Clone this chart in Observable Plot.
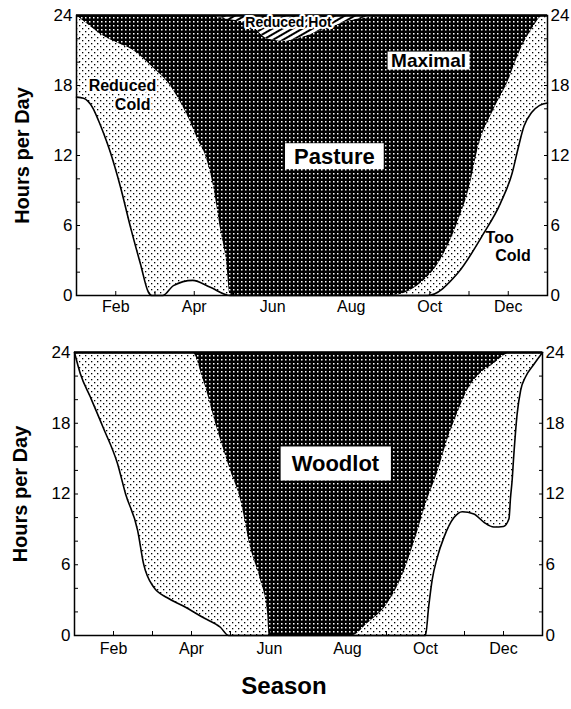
<!DOCTYPE html>
<html><head><meta charset="utf-8">
<script src="https://cdn.jsdelivr.net/npm/d3@7"></script>
<script src="https://cdn.jsdelivr.net/npm/@observablehq/plot@0.6"></script>
<style>
body{margin:0;background:#fff;font-family:"Liberation Sans",Arial,sans-serif;}
#chart{width:571px;height:709px;position:relative;}
#chart svg{display:block;}
.season{position:absolute;left:0;width:568px;text-align:center;top:672px;font-weight:bold;font-size:24px;line-height:normal;}
</style></head><body>
<svg width="0" height="0" style="position:absolute">
<defs>
<pattern id="pMax" patternUnits="userSpaceOnUse" width="4" height="4">
<rect width="4" height="4" fill="#000"/><rect x="1" y="1" width="1.5" height="1.5" fill="#fff"/>
</pattern>
<pattern id="pCold" patternUnits="userSpaceOnUse" width="6" height="6">
<rect width="6" height="6" fill="#fff"/><rect x="1" y="1" width="1.3" height="1.3" fill="#000"/><rect x="4" y="4" width="1.3" height="1.3" fill="#000"/>
</pattern>
<pattern id="pHot" patternUnits="userSpaceOnUse" width="5" height="5" patternTransform="rotate(-30)">
<rect width="5" height="5" fill="#fff"/><rect y="0" width="5" height="2" fill="#000"/>
</pattern>
</defs></svg>
<div id="chart"></div>
<script>
// ---- axis ticks ----
const months = ["Jan","Feb","Mar","Apr","May","Jun","Jul","Aug","Sep","Oct","Nov","Dec"];
const monthTicks = d3.range(0, 12);
const labelledMonths = [1, 3, 5, 7, 9, 11];
const majorHours = [0, 6, 12, 18, 24];
const minorHours = d3.range(0, 25, 2);
const categories = ["Too Cold", "Reduced Cold", "Maximal", "Reduced Hot"];

// ---- Pasture: cumulative boundaries [month, hours] ----
// top of "Too Cold"
const pastureTooCold = [[0,17],[0.18,16.9],[0.41,16.1],[0.56,15],[0.69,13.9],[0.85,12.4],[1.12,9.3],[1.38,5.8],[1.63,2.7],[1.83,0.3],[1.92,0],[2.2,0],[2.47,0.85],[2.96,1.3],[3.41,0.7],[3.92,0],[8.94,0],[9.71,1.9],[10.37,5.3],[10.8,7.9],[11.1,10.5],[11.25,12.6],[11.4,14.5],[11.6,15.7],[11.8,16.3],[12,16.5]];
// top of "Reduced Cold"
const pastureColdTop = [[0,24],[0.3,23.2],[0.61,22.4],[1.0,21.7],[1.45,21],[1.96,19.5],[2.32,18.3],[2.83,15.4],[3.16,12.9],[3.24,12.4],[3.5,9.2],[3.68,5.5],[3.82,3],[3.92,0],[8.05,0],[8.76,1.0],[9.27,3.0],[9.71,6.2],[10.04,9.6],[10.22,12.4],[10.63,15.9],[10.98,18.2],[11.31,21],[11.64,23],[11.9,24],[12,24]];
// top of "Maximal" (above it: "Reduced Hot")
const pastureMaxTop = [[0,24],[3.41,24],[3.67,23.8],[4.43,23.2],[4.87,22.0],[5.27,21.8],[5.71,22.1],[6.22,22.7],[6.73,23.3],[7.16,23.7],[7.75,23.9],[8.25,24],[12,24]];

// ---- Woodlot ----
const woodlotTooCold = [[0,24],[0.15,22.2],[0.41,20.2],[0.74,17.6],[1.10,14.6],[1.31,12],[1.62,8.9],[1.77,6.1],[2.03,4.1],[2.38,3.2],[2.79,2.5],[3.31,1.5],[3.74,0.7],[3.95,0],[9.0,0],[9.08,2.4],[9.17,4.7],[9.3,6.6],[9.47,8.3],[9.73,10],[9.94,10.5],[10.24,10.3],[10.5,9.6],[10.75,9.2],[11.0,9.25],[11.14,9.9],[11.18,11.7],[11.22,13.1],[11.26,15.1],[11.35,18.8],[11.44,20.8],[11.56,21.9],[11.78,23],[12,24]];
const woodlotColdTop = [[0,24],[3.03,24],[3.31,21.6],[3.67,17.4],[4.0,14],[4.26,11.5],[4.51,7.5],[4.77,4.7],[4.95,1.9],[4.99,0],[7.13,0],[7.51,1],[8.03,2.7],[8.44,5.3],[8.79,8.7],[9.05,11.5],[9.3,13.7],[9.56,16.5],[9.82,18.8],[10.08,20.8],[10.41,22.2],[10.74,23],[11.1,23.9],[11.2,24],[12,24]];
const woodlotMaxTop = [[0,24],[12,24]];

// ---- annotations ----
const pastureNotes = [
  {text:"Reduced Hot", month:5.40, hours:23.4, size:14, kind:"halo"},
  {text:"Maximal", month:8.97, hours:20.1, size:19, kind:"box", px:3.5, py:-1.5},
  {text:"Pasture", month:6.57, hours:11.9, size:22, kind:"box", px:9, py:0.5},
  {text:"Reduced", month:1.17, hours:17.96, size:16, kind:"halo"},
  {text:"Cold", month:1.43, hours:16.33, size:16, kind:"halo"},
  {text:"Too", month:10.78, hours:4.93, size:16, kind:"plain"},
  {text:"Cold", month:11.12, hours:3.43, size:16, kind:"plain"}
];
const woodlotNotes = [
  {text:"Woodlot", month:6.69, hours:14.55, size:22, kind:"box", px:11, py:4.5}
];

function panel(o) {
  const X = d => d[0], Y = d => d[1];
  const curve = "monotone-x";
  const noteMarks = o.notes.map(n => Plot.text([n], {
    x: "month", y: "hours", text: "text", fontWeight: "bold", fontSize: n.size, fill: "black",
    ...(n.kind === "halo" ? {stroke: "white", strokeWidth: 4, paintOrder: "stroke"} : {}),
    className: n.kind === "box" ? "boxed" : undefined
  }));
  const svg = Plot.plot({
    width: 571, height: o.height,
    marginLeft: o.ml, marginRight: o.mr, marginTop: o.mt, marginBottom: o.mb,
    x: {domain: [0, 12]}, y: {domain: [0, 24]},
    style: {fontFamily: "'Liberation Sans', Arial, sans-serif", color: "black", background: "white"},
    marks: [
      Plot.areaY(o.maxTop, {x: X, y1: 0, y2: Y, fill: "url(#pMax)", curve}),
      Plot.areaY(o.maxTop, {x: X, y1: Y, y2: 24, fill: "url(#pHot)", curve}),
      Plot.areaY(o.coldTop, {x: X, y1: 0, y2: Y, fill: "url(#pCold)", curve}),
      Plot.areaY(o.tooCold, {x: X, y1: 0, y2: Y, fill: "white", curve}),
      Plot.lineY(o.tooCold, {x: X, y: Y, stroke: "black", strokeWidth: 1.6, curve}),
      Plot.frame({stroke: "black", strokeWidth: 1.5}),
      Plot.ruleY([24], {stroke: "black", strokeWidth: 2.5}),
      Plot.axisY(minorHours, {anchor: "left", tickSize: 4, dx: 4, tickFormat: () => "", label: null}),
      Plot.axisY(minorHours, {anchor: "right", tickSize: 4, dx: -4, tickFormat: () => "", label: null}),
      Plot.axisY(majorHours, {anchor: "left", tickSize: 0, tickPadding: 4, fontSize: 17, label: null}),
      Plot.axisY(majorHours, {anchor: "right", tickSize: 0, tickPadding: 3, fontSize: 17, label: null}),
      Plot.axisX(monthTicks, {anchor: "bottom", tickSize: 4, dy: -4, tickFormat: () => "", label: null}),
      Plot.axisX(labelledMonths, {anchor: "bottom", tickSize: 0, tickPadding: o.xpad, tickFormat: d => months[d], fontSize: 16, label: null}),
      Plot.text(["Hours per Day"], {frameAnchor: "left", textAnchor: "middle", dx: -54, rotate: -90, text: d => d, fontWeight: "bold", fontSize: 20}),
      ...noteMarks
    ]
  });
  return svg;
}

const chart = document.getElementById("chart");
const topPanel = panel({tooCold: pastureTooCold, coldTop: pastureColdTop, maxTop: pastureMaxTop, notes: pastureNotes,
  height: 330, ml: 76, mr: 24, mt: 15, mb: 35, xpad: 5});
const bottomPanel = panel({tooCold: woodlotTooCold, coldTop: woodlotColdTop, maxTop: woodlotMaxTop, notes: woodlotNotes,
  height: 340, ml: 74, mr: 29, mt: 22, mb: 35, xpad: 7});
chart.appendChild(topPanel);
chart.appendChild(bottomPanel);
const season = document.createElement("div");
season.className = "season";
season.textContent = "Season";
chart.appendChild(season);

// white boxes behind boxed labels
const allNotes = [pastureNotes, woodlotNotes];
[topPanel, bottomPanel].forEach((svg, i) => {
  const boxedNotes = allNotes[i].filter(n => n.kind === "box");
  svg.querySelectorAll("g.boxed").forEach((g, j) => {
    const n = boxedNotes[j];
    g.querySelectorAll("text").forEach(t => {
      const b = t.getBBox();
      const r = document.createElementNS("http://www.w3.org/2000/svg", "rect");
      r.setAttribute("x", b.x - n.px);
      r.setAttribute("y", b.y - n.py);
      r.setAttribute("width", b.width + 2 * n.px);
      r.setAttribute("height", b.height + 2 * n.py);
      r.setAttribute("fill", "white");
      const tr = t.getAttribute("transform");
      if (tr) r.setAttribute("transform", tr);
      t.parentNode.insertBefore(r, t);
    });
  });
});
</script>
</body></html>
